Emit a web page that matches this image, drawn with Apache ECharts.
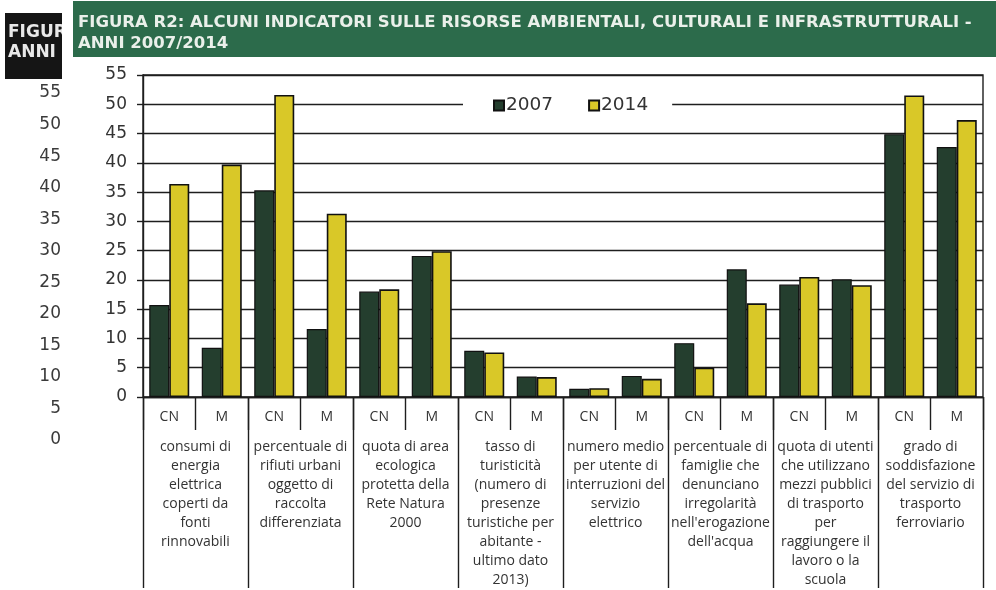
<!DOCTYPE html>
<html>
<head>
<meta charset="utf-8">
<script src="https://cdn.jsdelivr.net/npm/echarts@6/dist/echarts.min.js"></script>
<style>
  html, body { margin: 0; padding: 0; background: #ffffff; }
  #chart { width: 996px; height: 590px; }
</style>
</head>
<body>
<div id="chart"></div>
<script>
// Sub-categories (Centro-Nord / Mezzogiorno) repeated for each indicator
const subCategories = ['CN', 'M', 'CN', 'M', 'CN', 'M', 'CN', 'M',
                       'CN', 'M', 'CN', 'M', 'CN', 'M', 'CN', 'M'];

// Indicator labels, one per CN/M pair
const indicators = [
  'consumi di\nenergia\nelettrica\ncoperti da\nfonti\nrinnovabili',
  'percentuale di\nrifiuti urbani\noggetto di\nraccolta\ndifferenziata',
  'quota di area\necologica\nprotetta della\nRete Natura\n2000',
  'tasso di\nturisticità\n(numero di\npresenze\nturistiche per\nabitante -\nultimo dato\n2013)',
  'numero medio\nper utente di\ninterruzioni del\nservizio\nelettrico',
  'percentuale di\nfamiglie che\ndenunciano\nirregolarità\nnell\'erogazione\ndell\'acqua',
  'quota di utenti\nche utilizzano\nmezzi pubblici\ndi trasporto\nper\nraggiungere il\nlavoro o la\nscuola',
  'grado di\nsoddisfazione\ndel servizio di\ntrasporto\nferroviario'
];

const seriesNames = ['2007', '2014'];

const values2007 = [15.7, 8.4, 35.3, 11.6, 18.0, 24.1, 7.9, 3.5,
                    1.4, 3.6, 9.2, 21.8, 19.2, 20.1, 44.9, 42.7];
const values2014 = [36.4, 39.7, 51.6, 31.3, 18.4, 24.9, 7.6, 3.4,
                    1.5, 3.1, 5.0, 16.0, 20.5, 19.1, 51.5, 47.3];

const titleLine1 = 'FIGURA R2: ALCUNI INDICATORI SULLE RISORSE AMBIENTALI, CULTURALI E INFRASTRUTTURALI -';
const titleLine2 = 'ANNI 2007/2014';

const chart = echarts.init(document.getElementById('chart'), null, { renderer: 'canvas' });

const ink = '#1e1e1e';
const numFont = '"DejaVu Sans", sans-serif';
const labelFont = '"Open Sans", "DejaVu Sans", sans-serif';

chart.setOption({
  backgroundColor: '#ffffff',
  animation: false,
  textStyle: { fontFamily: labelFont },
  graphic: [
    // dark tag box on the far left
    { type: 'rect', z: 10, shape: { x: 5, y: 13, width: 57, height: 66 }, style: { fill: '#151515' } },
    { type: 'text', z: 11, style: { x: 8, y: 23, text: 'FIGURA\nANNI', fill: '#e8e8e8',
        font: 'bold 17px "DejaVu Sans", sans-serif', lineHeight: 20 } },
    { type: 'rect', z: 12, shape: { x: 62, y: 0, width: 11, height: 90 }, style: { fill: '#ffffff' } },
    // green title banner
    { type: 'rect', z: 13, shape: { x: 73, y: 1, width: 923, height: 56 }, style: { fill: '#2c6b4b' } },
    { type: 'text', z: 14, style: { x: 78, y: 12, text: titleLine1 + '\n' + titleLine2, fill: '#eaf0ea',
        font: 'bold 16.5px "DejaVu Sans", sans-serif', lineHeight: 21 } }
  ],
  legend: {
    data: seriesNames,
    left: 463,
    top: 93,
    padding: [3, 24, 3, 30],
    backgroundColor: '#ffffff',
    icon: 'rect',
    itemWidth: 10,
    itemHeight: 10,
    itemGap: 35,
    textStyle: { fontFamily: numFont, fontSize: 18.5, color: '#333', padding: [0, 0, 0, -3] }
  },
  grid: [
    { left: 143, right: 13, top: 75, bottom: 191, show: true, borderColor: ink, borderWidth: 1.4, containLabel: false },
    { left: 63, top: 93, width: 1, height: 347, show: false }
  ],
  xAxis: [
    {
      type: 'category',
      gridIndex: 0,
      data: subCategories,
      axisLine: { show: true, lineStyle: { color: ink, width: 1.4 } },
      axisTick: { show: true, length: 33, interval: 0, lineStyle: { color: ink, width: 1.4 } },
      axisLabel: { interval: 0, margin: 13, fontSize: 14, color: '#333' },
      splitLine: { show: false }
    },
    {
      type: 'category',
      gridIndex: 0,
      position: 'bottom',
      data: indicators,
      axisLine: { show: false },
      axisTick: { show: true, length: 191, interval: 0, lineStyle: { color: ink, width: 1.4 } },
      axisLabel: { interval: 0, margin: 41, fontSize: 14, lineHeight: 19, color: '#333', align: 'center' },
      splitLine: { show: false }
    },
    { type: 'value', gridIndex: 1, show: false }
  ],
  yAxis: [
    {
      type: 'value',
      gridIndex: 0,
      min: 0,
      max: 55,
      interval: 5,
      axisLine: { show: true, lineStyle: { color: ink, width: 1.4 } },
      axisTick: { show: true, length: 6, lineStyle: { color: ink, width: 1.4 } },
      axisLabel: { margin: 16, fontSize: 17, color: '#333', fontFamily: numFont },
      splitLine: { show: true, lineStyle: { color: ink, width: 1.4 } }
    },
    {
      type: 'value',
      gridIndex: 1,
      min: 0,
      max: 55,
      interval: 5,
      axisLine: { show: false },
      axisTick: { show: false },
      splitLine: { show: false },
      axisLabel: { margin: 2, fontSize: 17, color: '#3a3a3a', fontFamily: numFont }
    }
  ],
  series: [
    {
      name: seriesNames[0],
      type: 'bar',
      xAxisIndex: 0,
      yAxisIndex: 0,
      data: values2007,
      barWidth: 20,
      barGap: '0%',
      itemStyle: { color: '#243e2e', borderColor: '#111', borderWidth: 1.2 }
    },
    {
      name: seriesNames[1],
      type: 'bar',
      xAxisIndex: 0,
      yAxisIndex: 0,
      data: values2014,
      barWidth: 20,
      barGap: '0%',
      itemStyle: { color: '#d9c828', borderColor: '#111', borderWidth: 1.6 }
    }
  ]
});
</script>
</body>
</html>
